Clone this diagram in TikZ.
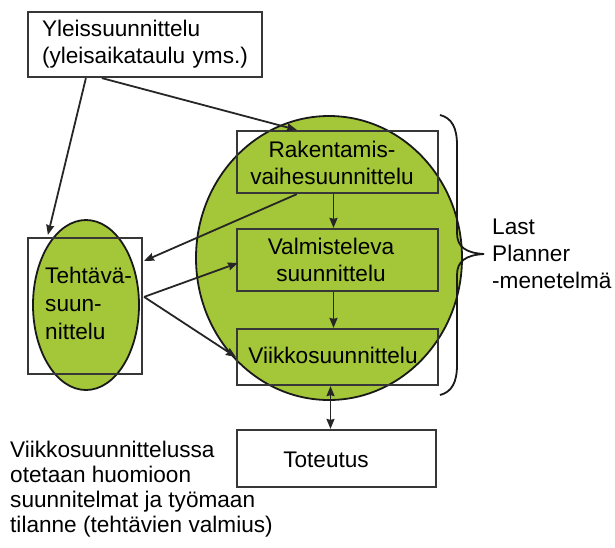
\documentclass[tikz,border=0pt]{standalone}
\usepackage{fontspec}
\setmainfont{Liberation Sans}
\usetikzlibrary{arrows.meta,calc,shapes.geometric}
\definecolor{lpgreen}{RGB}{164,198,57}
\definecolor{edgegray}{RGB}{55,55,55}
\begin{document}
\begin{tikzpicture}[x=1pt,y=-1pt,
  txt/.style={font=\fontsize{22.6}{27}\selectfont, inner sep=0pt, align=left, text=black},
  boxshape/.style={draw=edgegray, line width=2.2pt, rectangle, inner sep=0pt},
  greenell/.style={draw=black!90, line width=1.8pt, fill=lpgreen, ellipse, inner sep=0pt},
  arr/.style={draw=black!85, line width=1.8pt, -{Stealth[length=10pt,width=8pt,inset=1pt]}},
  darr/.style={draw=black!85, line width=1.8pt, {Stealth[length=10pt,width=8pt,inset=1pt]}-{Stealth[length=10pt,width=8pt,inset=1pt]}},
]
\useasboundingbox (0,0) rectangle (615,547);
% green ellipses
\node[greenell, minimum width=266pt, minimum height=284pt] (circ) at (329,258) {};
\node[greenell, minimum width=106pt, minimum height=170pt] (tell) at (86,305) {};
% boxes
\node[boxshape, fill=white, minimum width=234pt, minimum height=65pt, text width=206pt, inner xsep=14pt, align=left, font=\fontsize{22.6}{27}\selectfont] (top) at (145,44.5) {Yleissuunnittelu\\(yleisaikataulu yms.)};
\node[boxshape, minimum width=201pt, minimum height=62pt] (box1) at (337.5,162) {};
\node[boxshape, minimum width=201pt, minimum height=62pt] (box2) at (337.5,260) {};
\node[boxshape, minimum width=201pt, minimum height=56pt] (box3) at (337.5,357) {};
\node[boxshape, fill=white, minimum width=199pt, minimum height=57pt] (tot) at (336.5,458.5) {};
\node[boxshape, minimum width=114pt, minimum height=136pt] (trect) at (85,306) {};
% texts
\node[txt, align=center] (t1) at (332,163) {Rakentamis-\\vaihesuunnittelu};
\node[txt, align=center] (t2) at (331,260) {Valmisteleva\\suunnittelu};
\node[txt] (t3) at (333,355) {Viikkosuunnittelu};
\node[txt] (t4) at (326,460) {Toteutus};
\node[txt, anchor=west, font=\fontsize{22.6}{28}\selectfont] (t5) at (45,303) {Tehtävä-\\suun-\\nittelu};
\node[txt, anchor=west] (lp) at (492,254) {Last\\Planner\\-menetelmä};
\node[txt, anchor=west, font=\fontsize{22.6}{25}\selectfont] (note) at (10,489.5) {Viikkosuunnittelussa\\otetaan huomioon\\suunnitelmat ja työmaan\\tilanne (tehtävien valmius)};
% brace
\draw[line width=1.8pt, black!90] (440,115) .. controls (452,118) and (457,128) .. (457,145) -- (457,233) .. controls (457,247) and (466,253) .. (484,254) .. controls (466,255) and (457,261) .. (457,275) -- (457,365) .. controls (457,382) and (452,392) .. (440,395);
% connectors
\draw[arr] ($(top.south west)+(59,0)$) -- ($(trect.north west)+(21,-2)$);
\draw[arr] ($(top.south west)+(75,0)$) -- ($(box1.north west)+(61,0)$);
\draw[arr] ($(box1.south west)+(61,0)$) -- ($(trect.north east)+(1,24)$);
\coordinate (tj) at ($(trect.north east)+(1,60)$);
\draw[arr] (tj) -- ($(box2.west)+(2,3)$);
\draw[arr] (tj) -- (box3.west);
\draw[arr] ($(box1.south)+(-4,0)$) -- ($(box2.north)+(-4,0)$);
\draw[arr] ($(box2.south)+(-4,0)$) -- ($(box3.north)+(-4,0)$);
\draw[darr] ($(box3.south)+(-7,0)$) -- ($(tot.north)+(-6,0)$);
\end{tikzpicture}
\end{document}
